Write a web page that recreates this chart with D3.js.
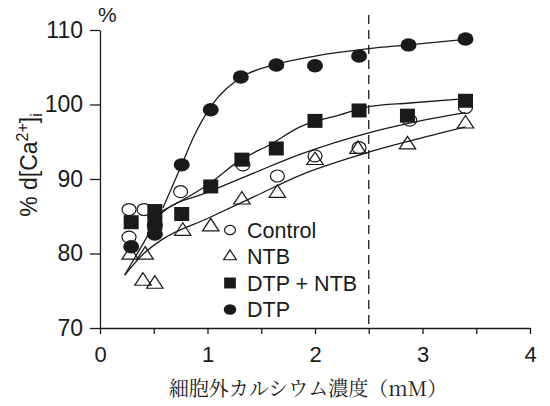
<!DOCTYPE html>
<html>
<head>
<meta charset="utf-8">
<script src="https://cdn.jsdelivr.net/npm/d3@7"></script>
<style>
  body { margin: 0; background: #fff; }
  svg { display: block; }
  .tick text { font-family: "Liberation Sans", Arial, sans-serif; fill: #1a1a1a; }
</style>
</head>
<body>
<svg id="chart" width="550" height="406"></svg>
<script>
let controlX = [0.27, 0.27, 0.41, 0.75, 1.33, 1.65, 2.0, 2.41, 2.88, 3.4];
let controlY = [85.9, 82.2, 85.9, 88.3, 91.9, 90.4, 93.1, 94.2, 97.9, 99.6];

let ntbX = [0.28, 0.42, 0.4, 0.51, 0.77, 1.03, 1.32, 1.65, 2.0, 2.4, 2.86, 3.4];
let ntbY = [79.8, 79.8, 76.3, 75.9, 83.0, 83.6, 87.2, 88.1, 92.5, 94.0, 94.6, 97.4];

let dtpNtbX = [0.29, 0.51, 0.51, 0.76, 1.03, 1.32, 1.64, 2.0, 2.41, 2.86, 3.4];
let dtpNtbY = [84.2, 85.7, 84.0, 85.3, 89.0, 92.6, 94.1, 97.8, 99.2, 98.5, 100.5];

let dtpX = [0.29, 0.51, 0.51, 0.76, 1.03, 1.31, 1.64, 2.0, 2.41, 2.87, 3.4];
let dtpY = [80.9, 83.8, 82.6, 91.9, 99.3, 103.7, 105.3, 105.2, 106.5, 108.0, 108.8];

// fitted curves
let controlFitX = [0.23, 0.4, 0.58, 1.0, 1.43, 1.86, 2.5, 2.88, 3.4];
let controlFitY = [77.1, 81.3, 85.5, 88.2, 90.8, 93.3, 96.2, 97.5, 98.9];

let ntbFitX = [0.23, 0.4, 0.58, 1.0, 1.43, 1.86, 2.5, 2.88, 3.4];
let ntbFitY = [77.1, 79.9, 81.9, 84.7, 87.6, 90.5, 93.6, 95.1, 97.0];

let dtpNtbFitX = [0.575, 1.02, 1.3, 1.58, 1.86, 2.23, 2.5, 2.88, 3.4];
let dtpNtbFitY = [85.7, 89.4, 92.5, 94.6, 97.0, 98.6, 99.7, 100.2, 100.8];

let dtpFitX = [0.585, 0.76, 0.87, 1.04, 1.31, 1.64, 2.0, 2.5, 2.87, 3.4];
let dtpFitY = [86.1, 91.9, 95.6, 99.9, 103.6, 105.4, 106.5, 107.5, 108.0, 108.75];

let xTicks = [0, 0.5, 1, 1.5, 2, 2.5, 3, 3.5, 4];
let yTicks = [70, 80, 90, 100, 110];
let refLineX = 2.5;

let legendLabels = ['Control', 'NTB', 'DTP + NTB', 'DTP'];

let ink = '#1a1a1a';
let sansFont = '"Liberation Sans", Arial, sans-serif';

let svg = d3.select('#chart');

let x = d3.scaleLinear().domain([0, 4]).range([100, 530]);
let y = d3.scaleLinear().domain([70, 110]).range([328, 30]);

let zip = (xs, ys) => xs.map((v, i) => [v, ys[i]]);

// axes
let xAxis = d3.axisBottom(x).tickValues(xTicks).tickSize(6).tickSizeOuter(0).tickPadding(12)
    .tickFormat((d) => Number.isInteger(d) ? d : '');
let yAxis = d3.axisLeft(y).tickValues(yTicks).tickSize(10).tickSizeOuter(0).tickPadding(7);

let gx = svg.append('g').attr('transform', `translate(0,${y(70)})`).call(xAxis);
let gy = svg.append('g').attr('transform', `translate(${x(0)},0)`).call(yAxis);
[gx, gy].forEach((g) => {
  g.selectAll('path, line').attr('stroke', ink).attr('stroke-width', 1.3);
});
gx.selectAll('.tick text').attr('font-size', 22);
gy.selectAll('.tick text').attr('font-size', 23);

// dashed reference line at 2.5 mM
svg.append('line')
    .attr('x1', x(refLineX)).attr('x2', x(refLineX))
    .attr('y1', 15).attr('y2', y(70))
    .attr('stroke', ink).attr('stroke-width', 1.3)
    .attr('stroke-dasharray', '9,6');

// fitted curves
let line = d3.line().x((d) => x(d[0])).y((d) => y(d[1])).curve(d3.curveMonotoneX);
[[controlFitX, controlFitY], [ntbFitX, ntbFitY], [dtpNtbFitX, dtpNtbFitY], [dtpFitX, dtpFitY]]
    .forEach(([xs, ys]) => {
      svg.append('path')
          .datum(zip(xs, ys))
          .attr('d', line)
          .attr('fill', 'none')
          .attr('stroke', ink)
          .attr('stroke-width', 1.3);
    });

// marker drawers
let triangle = d3.symbol().type(d3.symbolTriangle);

function openCircle(g, cx, cy, s) {
  g.append('ellipse').attr('cx', cx).attr('cy', cy)
      .attr('rx', 7 * s).attr('ry', 6 * s)
      .attr('fill', 'none').attr('stroke', ink).attr('stroke-width', 1.2);
}
function openTriangle(g, cx, cy, s) {
  g.append('path').attr('d', triangle.size(100 * s * s)())
      .attr('transform', `translate(${cx},${cy}) scale(1.08,0.95)`)
      .attr('fill', 'none').attr('stroke', ink).attr('stroke-width', 1.2);
}
function filledSquare(g, cx, cy, s) {
  g.append('rect').attr('x', cx - 7.5 * s).attr('y', cy - 7 * s)
      .attr('width', 15 * s).attr('height', 14 * s)
      .attr('fill', ink);
}
function filledCircle(g, cx, cy, s) {
  g.append('ellipse').attr('cx', cx).attr('cy', cy)
      .attr('rx', 8 * s).attr('ry', 6.7 * s)
      .attr('fill', ink);
}

let marks = svg.append('g');
zip(controlX, controlY).forEach((d) => openCircle(marks, x(d[0]), y(d[1]), 1));
zip(ntbX, ntbY).forEach((d) => openTriangle(marks, x(d[0]), y(d[1]), 1));
zip(dtpNtbX, dtpNtbY).forEach((d) => filledSquare(marks, x(d[0]), y(d[1]), 1));
zip(dtpX, dtpY).forEach((d) => filledCircle(marks, x(d[0]), y(d[1]), 1));

// legend
let legendDrawers = [openCircle, openTriangle, filledSquare, filledCircle];
let legend = svg.append('g');
legendLabels.forEach((label, i) => {
  let rowY = 230 + i * 26.5;
  legendDrawers[i](legend, 230, rowY, 0.78);
  legend.append('text')
      .attr('x', 247).attr('y', rowY + 7.5)
      .attr('font-family', sansFont).attr('font-size', 21.5)
      .attr('fill', ink)
      .text(label);
});

// unit label above the y axis
svg.append('text')
    .attr('x', 98).attr('y', 22)
    .attr('font-family', sansFont).attr('font-size', 21).attr('fill', ink)
    .text('%');

// y axis title: % d[Ca2+]i
let yTitle = svg.append('text')
    .attr('transform', 'translate(37,165) rotate(-90)')
    .attr('text-anchor', 'middle')
    .attr('font-family', sansFont).attr('font-size', 23).attr('fill', ink);
yTitle.append('tspan').text('% d[Ca');
yTitle.append('tspan').attr('font-size', 16).attr('dy', -9).text('2+');
yTitle.append('tspan').attr('dy', 9).text(']');
yTitle.append('tspan').attr('font-size', 16).attr('dy', 5).text('i');

// x axis title
svg.append('text')
    .attr('x', 308).attr('y', 396)
    .attr('text-anchor', 'middle')
    .attr('font-family', '"Noto Serif CJK JP", "Noto Sans CJK JP", serif')
    .attr('font-size', 20).attr('fill', ink)
    .text('細胞外カルシウム濃度（mM）');
</script>
</body>
</html>
